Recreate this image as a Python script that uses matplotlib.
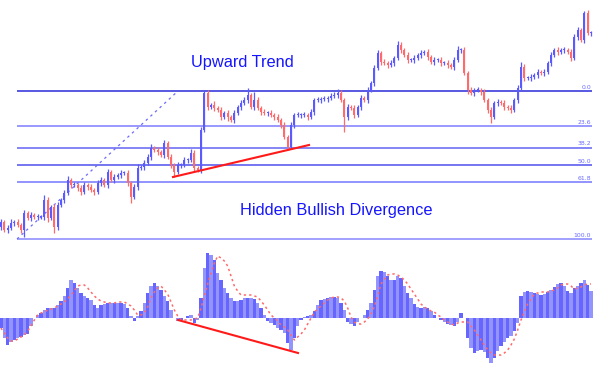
import matplotlib
matplotlib.use("Agg")
import matplotlib.pyplot as plt
import numpy as np

# =============================
# Price data (pips above the swing low, one candle per bar)
# =============================
close_pips = [
    17, 9, 11, 16, 17, 14, 9, 26, 21, 24,
    22, 22, 22, 39, 21, 32, 12, 34, 39, 46,
    59, 54, 54, 51, 47, 54, 52, 49, 47, 56,
    59, 54, 67, 59, 62, 64, 66, 66, 56, 42,
    52, 71, 72, 76, 82, 91, 89, 87, 84, 96,
    82, 74, 67, 74, 74, 79, 79, 86, 71, 69,
    109, 146, 132, 134, 131, 129, 122, 126, 122, 119,
    126, 132, 136, 139, 144, 132, 139, 131, 127, 126,
    126, 124, 122, 119, 114, 102, 92, 114, 124, 124,
    124, 124, 122, 127, 139, 139, 140, 140, 141, 143,
    144, 146, 139, 122, 132, 131, 124, 132, 141, 139,
    149, 156, 171, 186, 177, 176, 174, 176, 181, 194,
    189, 184, 179, 179, 181, 184, 186, 187, 182, 177,
    179, 179, 176, 176, 174, 172, 179, 189, 189, 166,
    149, 146, 149, 149, 147, 139, 129, 122, 136, 137,
    136, 132, 131, 129, 139, 151, 172, 161, 161, 162,
    164, 167, 166, 167, 176, 184, 189, 187, 189, 189,
    187, 181, 202, 209, 199, 226, 206, 206,
]
first_open = 12

wick_up = [
    3, 2, 3, 4, 2, 3, 2, 3, 2, 3,
    2, 3, 2, 5, 3, 2, 3, 3, 2, 3,
    4, 2, 3, 2, 3, 3, 2, 3, 2, 3,
    3, 2, 3, 2, 3, 2, 3, 2, 3, 2,
    3, 4, 2, 3, 3, 4, 2, 3, 2, 3,
    2, 3, 2, 3, 2, 3, 2, 4, 3, 2,
    3, 2, 3, 2, 4, 2, 3, 2, 3, 2,
    3, 2, 3, 3, 7, 2, 8, 3, 2, 3,
    2, 3, 2, 3, 2, 3, 2, 3, 2, 3,
    2, 3, 2, 3, 2, 3, 2, 3, 2, 3,
    3, 4, 3, 2, 3, 2, 3, 2, 3, 2,
    3, 2, 3, 3, 2, 3, 2, 3, 2, 4,
    3, 2, 3, 2, 3, 2, 3, 2, 3, 2,
    3, 2, 3, 2, 3, 2, 3, 4, 2, 3,
    2, 3, 2, 3, 2, 3, 2, 3, 2, 3,
    2, 3, 2, 3, 2, 3, 5, 3, 2, 3,
    2, 3, 2, 3, 2, 3, 2, 3, 2, 3,
    2, 3, 3, 3, 2, 2, 3, 2,
]

wick_dn = [
    3, 2, 3, 2, 3, 2, 3, 7, 2, 3,
    2, 3, 2, 3, 4, 2, 6, 3, 2, 3,
    2, 3, 2, 3, 3, 2, 3, 2, 3, 2,
    3, 2, 3, 2, 3, 2, 3, 2, 3, 6,
    2, 3, 2, 3, 2, 3, 2, 3, 2, 3,
    2, 3, 5, 2, 3, 2, 3, 2, 3, 2,
    3, 2, 3, 2, 3, 2, 3, 2, 4, 2,
    3, 2, 3, 2, 3, 2, 3, 2, 3, 2,
    3, 2, 3, 2, 3, 2, 3, 2, 3, 2,
    3, 2, 3, 2, 3, 2, 3, 2, 3, 2,
    2, 3, 2, 15, 3, 2, 3, 2, 3, 2,
    3, 2, 3, 2, 3, 2, 3, 2, 3, 2,
    3, 2, 3, 2, 3, 2, 3, 2, 3, 2,
    3, 2, 3, 2, 3, 2, 3, 2, 3, 2,
    4, 2, 3, 2, 3, 2, 3, 6, 2, 3,
    2, 3, 2, 3, 2, 3, 2, 3, 2, 3,
    2, 3, 2, 3, 2, 3, 2, 3, 2, 3,
    2, 3, 2, 3, 2, 3, 2, 3,
]

# =============================
# MACD data
# =============================
macd_hist = [
    -10, -20, -27, -24, -22, -20, -19, -17, -16, -8,
    0, 3, 5, 8, 10, 10, 10, 13, 17, 22,
    30, 38, 35, 30, 25, 22, 20, 18, 13, 10,
    13, 14, 15, 15, 15, 15, 15, 14, 10, 2,
    -3, 2, 7, 15, 25, 32, 35, 32, 28, 22,
    17, 8, 0, -3, -2, 0, 2, 3, -5, -2,
    20, 50, 65, 63, 58, 45, 38, 30, 25, 20,
    17, 17, 18, 20, 20, 20, 19, 15, 10, 3,
    -3, -5, -7, -10, -12, -15, -25, -32, -20, -8,
    -2, 1, 2, 3, 7, 13, 18, 19, 20, 21,
    21, 20, 15, 8, -4, -6, -8, -4, 0, 3,
    8, 15, 28, 42, 47, 46, 42, 38, 38, 42,
    40, 32, 25, 20, 14, 11, 10, 11, 10, 7,
    3, 0, -2, -4, -6, -7, -8, -4, 5, 0,
    -20, -30, -35, -33, -32, -34, -40, -45, -40, -33,
    -28, -24, -20, -18, -13, -5, 22, 26, 27, 26,
    25, 24, 23, 24, 26, 28, 31, 34, 35, 32,
    27, 25, 30, 32, 35, 38, 33, 27,
]

macd_signal = [
    -10, -15, -20, -23, -23, -21, -19, -17, -13, -8,
    -2, 3, 5, 6, 8, 9, 10, 12, 14, 16,
    19, 23, 27, 32, 33, 33, 30, 26, 22, 19,
    17, 16, 15, 15, 15, 16, 16, 16, 14, 12,
    8, 3, 3, 5, 11, 20, 26, 30, 32, 28,
    24, 16, 8, 2, -2, -2, -2, -2, -1, 0,
    10, 22, 34, 45, 55, 62, 60, 57, 52, 42,
    32, 27, 23, 23, 23, 23, 22, 21, 17, 13,
    8, 3, 0, -3, -7, -9, -12, -17, -22, -19,
    -16, -12, -6, 0, 6, 9, 12, 15, 18, 20,
    21, 21, 20, 17, 10, 1, -4, -6, -6, -4,
    -1, 4, 11, 22, 34, 39, 43, 44, 44, 43,
    41, 38, 34, 29, 24, 19, 14, 11, 9, 7,
    6, 3, 1, -2, -4, -6, -7, -5, -4, -4,
    -4, -8, -12, -17, -22, -27, -32, -35, -37, -37,
    -37, -35, -32, -27, -21, -12, -2, 6, 14, 19,
    24, 25, 26, 26, 26, 27, 28, 30, 33, 34,
    34, 32, 29, 30, 31, 33, 34, 34,
]

# Fibonacci retracement of the swing (0% at the high, 100% at the low)
fib_levels = [0.0, 23.6, 38.2, 50.0, 61.8, 100.0]
fib_labels = ["0.0", "23.6", "38.2", "50.0", "61.8", "100.0"]
swing_low, swing_high = 0, 148
swing_start, swing_end = 4.8, 53.1
fib_right = 177.3

# Divergence trend lines (bar index, value)
price_line_x = [51.6, 92.4]
price_line_y = [62, 94]
macd_line_x = [53.1, 89.1]
macd_line_y = [-2, -35]

# =============================
# Figure
# =============================
fig = plt.figure(figsize=(6.13, 3.80), dpi=100)
fig.patch.set_facecolor("white")

ax1 = fig.add_axes([0, 130 / 380, 1, 250 / 380])
ax2 = fig.add_axes([0, 8 / 380, 1, 122 / 380])
for ax in (ax1, ax2):
    ax.set_xlim(-0.3, 183.6)
    ax.axis("off")
ax1.set_ylim(-11, 239)
ax2.set_ylim(-54, 68)

# fib lines
fib_colors = ["#4b4be0", "#9090ff", "#7b7bf5", "#6a6af0", "#8a8aff", "#9a9aff"]
for lvl, lab, col in zip(fib_levels, fib_labels, fib_colors):
    yv = swing_high - (swing_high - swing_low) * lvl / 100.0
    ax1.hlines(yv, swing_start, fib_right, color=col, lw=1.3, zorder=1)
    ax1.text(fib_right - 0.3, yv + 1.2, lab, ha="right", va="bottom",
             fontsize=4.4, color="#6a6aff")

# fib trend line (dotted)
ax1.plot([swing_start, swing_end], [swing_low, swing_high],
         color="#6a6aff", lw=0.9, ls=(0, (2, 3)), zorder=1)

# candles
x = np.arange(len(close_pips))
closes = np.array(close_pips, dtype=float)
opens = np.concatenate([[first_open], closes[:-1]])
highs = np.maximum(opens, closes) + np.array(wick_up)
lows = np.minimum(opens, closes) - np.array(wick_dn)
up = closes >= opens
cols = np.where(up, "#5a5aff", "#ff6b6b")
ax1.vlines(x, lows, highs, colors=cols, lw=0.9, zorder=2)
body = np.maximum(np.abs(closes - opens), 1.0)
ax1.bar(x, body, bottom=np.minimum(opens, closes), width=0.6,
        color=cols, edgecolor="none", zorder=3)

ax1.plot(price_line_x, price_line_y, color="#ff1a1a", lw=1.5, zorder=4)

ax1.text(72.3, 176, "Upward Trend", ha="center", va="center",
         fontsize=11.8, color="#1515ff", family="Liberation Sans")
ax1.text(100.5, 29, "Hidden Bullish Divergence", ha="center", va="center",
         fontsize=11.8, color="#1515ff", family="Liberation Sans")

# MACD histogram + signal
hist_cols = ["#6666ff" if i % 2 == 0 else "#9494ff" for i in range(len(macd_hist))]
ax2.bar(x, macd_hist, width=1.0, color=hist_cols, edgecolor="none", zorder=1)
ax2.plot(x, macd_signal, color="#ff6a6a", lw=1.1, ls=(0, (1.5, 2)), zorder=2)
ax2.plot(macd_line_x, macd_line_y, color="#ff1a1a", lw=1.5, zorder=3)

fig.savefig("out.png", dpi=100, facecolor="white")
